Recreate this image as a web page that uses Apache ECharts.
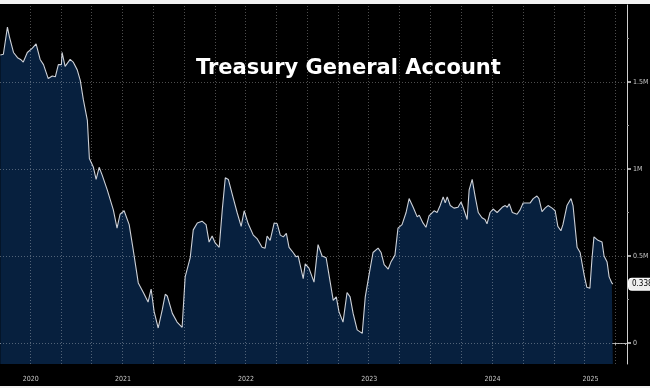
<!DOCTYPE html>
<html>
<head>
<meta charset="utf-8">
<script src="https://cdn.jsdelivr.net/npm/echarts@6/dist/echarts.min.js"></script>
<style>
html,body{margin:0;padding:0;background:#f2f2f2;width:650px;height:388px;overflow:hidden;}
#c{position:absolute;left:0;top:4px;width:650px;height:382px;background:#000;}
</style>
</head>
<body>
<div id="c"></div>
<script>
// ---- data (values in M) ----
const dates = [
'2020-07-04','2020-07-13','2020-07-25','2020-07-31','2020-08-12','2020-08-24','2020-09-02','2020-09-10','2020-09-22','2020-10-07',
'2020-10-10','2020-10-18','2020-10-30','2020-11-09','2020-11-23','2020-12-05','2020-12-14','2020-12-23','2021-01-01','2021-01-03',
'2021-01-12','2021-01-27','2021-02-05','2021-02-17','2021-02-26','2021-03-07','2021-03-19','2021-03-25','2021-04-06','2021-04-14',
'2021-04-23','2021-05-02','2021-05-17','2021-06-04','2021-06-15','2021-06-24','2021-07-06','2021-07-21','2021-08-02','2021-08-17',
'2021-09-01','2021-09-15','2021-09-24','2021-10-03','2021-10-15','2021-10-27','2021-11-05','2021-11-11','2021-11-26','2021-12-10',
'2021-12-25','2022-01-03','2022-01-18','2022-01-27','2022-02-08','2022-02-22','2022-03-06','2022-03-15','2022-03-24','2022-04-02',
'2022-04-14','2022-04-23','2022-05-02','2022-05-11','2022-05-26','2022-06-06','2022-06-18','2022-06-27','2022-07-09','2022-07-24',
'2022-08-04','2022-08-19','2022-08-28','2022-09-03','2022-09-12','2022-09-24','2022-10-03','2022-10-12','2022-10-21','2022-10-30',
'2022-11-07','2022-11-19','2022-11-28','2022-12-04','2022-12-19','2022-12-25','2023-01-05','2023-01-20','2023-02-01','2023-02-13',
'2023-02-25','2023-03-09','2023-03-18','2023-03-27','2023-04-04','2023-04-16','2023-04-28','2023-05-07','2023-05-16','2023-05-28',
'2023-06-12','2023-06-21','2023-07-02','2023-07-14','2023-07-29','2023-08-07','2023-08-16','2023-08-28','2023-09-05','2023-09-17',
'2023-09-26','2023-10-08','2023-10-20','2023-10-29','2023-11-10','2023-11-22','2023-11-28','2023-12-09','2023-12-18','2023-12-27',
'2024-01-11','2024-01-20','2024-01-29','2024-02-07','2024-02-13','2024-02-19','2024-02-28','2024-03-10','2024-03-22','2024-03-31',
'2024-04-06','2024-04-18','2024-04-24','2024-05-03','2024-05-12','2024-05-21','2024-06-01','2024-06-10','2024-06-16','2024-06-25',
'2024-07-04','2024-07-16','2024-07-31','2024-08-09','2024-08-15','2024-08-21','2024-08-30','2024-09-13','2024-09-22','2024-10-01',
'2024-10-13','2024-10-22','2024-10-31','2024-11-11','2024-11-17','2024-11-26','2024-12-05','2024-12-14','2024-12-26','2025-01-04',
'2025-01-12','2025-01-21','2025-01-27','2025-02-08','2025-02-20','2025-02-26','2025-03-10','2025-03-19','2025-03-31','2025-04-08',
'2025-04-17','2025-04-23','2025-04-29','2025-05-11','2025-05-23','2025-05-29','2025-06-07','2025-06-13','2025-06-21','2025-06-24'
];
const values = [
1.655,1.66,1.816,1.76,1.67,1.64,1.63,1.615,1.67,1.695,
1.685,1.72,1.63,1.60,1.52,1.535,1.53,1.60,1.60,1.67,
1.59,1.63,1.615,1.57,1.51,1.40,1.28,1.06,1.01,0.94,
1.01,0.965,0.88,0.765,0.66,0.74,0.76,0.68,0.535,0.345,
0.29,0.235,0.31,0.18,0.086,0.19,0.28,0.27,0.17,0.12,
0.09,0.38,0.49,0.65,0.69,0.70,0.68,0.58,0.615,0.575,
0.55,0.765,0.95,0.94,0.83,0.75,0.67,0.76,0.685,0.62,
0.60,0.55,0.545,0.615,0.59,0.69,0.685,0.62,0.61,0.63,
0.55,0.52,0.495,0.50,0.37,0.455,0.43,0.35,0.565,0.50,
0.49,0.35,0.245,0.265,0.18,0.12,0.29,0.265,0.17,0.075,
0.055,0.265,0.39,0.52,0.545,0.52,0.45,0.425,0.465,0.505,
0.66,0.68,0.75,0.83,0.78,0.725,0.735,0.69,0.665,0.73,
0.76,0.75,0.79,0.84,0.805,0.84,0.79,0.775,0.78,0.81,
0.78,0.71,0.88,0.94,0.84,0.75,0.72,0.71,0.685,0.75,
0.77,0.75,0.78,0.79,0.78,0.80,0.75,0.74,0.765,0.805,
0.805,0.805,0.83,0.845,0.83,0.755,0.775,0.79,0.775,0.76,
0.67,0.645,0.68,0.79,0.83,0.79,0.55,0.52,0.39,0.32,
0.315,0.48,0.61,0.59,0.58,0.50,0.465,0.38,0.345,0.338
];
const titleText = 'Treasury General Account';
const yTickValues = [0, 0.5, 1, 1.5];
const yMinorValues = [0.25, 0.75, 1.25, 1.75];
const yearLabels = ['2020','2021','2022','2023','2024','2025'];
const xMin = '2020-07-03';
const xMax = '2025-08-05';
const yMin = -0.121;
const yMax = 1.943;
const lastLabel = '0.338M';

// ---- helpers ----
const P = s => +echarts.time.parse(s);
const tMin = P(xMin), tMax = P(xMax);
function monthStarts(stepMonths){
  const out=[]; const d=new Date(tMin); let y=d.getFullYear(), m=d.getMonth()+1;
  while(true){ if(m>11){y++;m-=12;} const t=+new Date(y,m,1); if(t>tMax)break; if(t>tMin && (m%stepMonths)===0) out.push(t); m++; }
  return out;
}
const monthTicks = monthStarts(1);
const quarterTicks = monthStarts(3);
const yearStarts = yearLabels.slice(1).map(y=>P(y+'-01-01'));
const yearMids = yearLabels.map(y=>{
  const a=Math.max(P(y+'-01-01'),tMin), b=Math.min(P((+y+1)+'-01-01'),tMax); return (a+b)/2;
});
const seriesData = dates.map((d,i)=>[P(d), values[i]]);
const lastVal = values[values.length-1];

const axisGrey = '#a8a8a8';
const labelCol = '#c8c8c8';
const gridLine = {type:[1,2], color:'rgba(255,255,255,0.3)', width:1};

const chart = echarts.init(document.getElementById('c'), null, {renderer:'canvas'});
chart.setOption({
  backgroundColor:'#000',
  animation:false,
  title:{ text:titleText, left:196, top:54, padding:0,
    textStyle:{color:'#ffffff', fontSize:21, fontWeight:'bold', fontFamily:'DejaVu Sans'} },
  grid:{left:0, right:23, top:1, bottom:22, containLabel:false, outerBoundsMode:'none'},
  xAxis:[
    {type:'value', min:tMin, max:tMax, position:'bottom',
     axisLine:{show:true, lineStyle:{color:axisGrey, width:1}},
     axisTick:{show:true, customValues:monthTicks, length:2, lineStyle:{color:axisGrey}},
     axisLabel:{show:false}, splitLine:{show:false}},
    {type:'value', min:tMin, max:tMax, position:'bottom', offset:10,
     axisLine:{show:false},
     axisTick:{show:true, customValues:yearStarts, length:9, lineStyle:{color:'#8a8a8a'}},
     axisLabel:{show:true, customValues:yearMids, margin:2, fontSize:7, color:labelCol, fontFamily:'DejaVu Sans Condensed',
       formatter:v=>String(new Date(v).getFullYear())},
     splitLine:{show:false}}
  ],
  yAxis:[
    {type:'value', position:'right', min:yMin, max:yMax,
     axisLine:{show:true, lineStyle:{color:'#cfcfcf', width:1}},
     axisTick:{show:true, customValues:yTickValues, length:4, lineStyle:{color:'#dcdcdc', width:1.5}},
     axisLabel:{show:true, customValues:yTickValues, margin:6, fontSize:7, color:labelCol, fontFamily:'DejaVu Sans Condensed',
       formatter:v=> v===0 ? '0' : v+'M'},
     splitLine:{show:false}},
    {type:'value', position:'right', min:yMin, max:yMax,
     axisLine:{show:false},
     axisTick:{show:true, customValues:yMinorValues, length:2, lineStyle:{color:'#9a9a9a'}},
     axisLabel:{show:false}, splitLine:{show:false}},
    {type:'value', position:'right', min:yMin, max:yMax,
     axisLine:{show:false}, axisTick:{show:false}, splitLine:{show:false},
     axisLabel:{show:true, customValues:[lastVal], margin:2, fontSize:8, color:'#000', fontFamily:'DejaVu Sans Condensed',
       backgroundColor:'#eeeeee', borderColor:'#ffffff', borderWidth:1, borderRadius:3, padding:[2,3,1,3], formatter:()=>lastLabel}}
  ],
  series:[{
    type:'line', xAxisIndex:0, yAxisIndex:0,
    data:seriesData, symbol:'none', smooth:false,
    lineStyle:{color:'#cdd1d8', width:1.1},
    areaStyle:{color:'#07203e', opacity:1, origin:'start'},
    markLine:{silent:true, symbol:['none','none'], label:{show:false}, lineStyle:gridLine, animation:false,
      data:[...yTickValues.map(v=>({yAxis:v})), ...quarterTicks.map(t=>({xAxis:t}))]}
  }]
});
</script>
</body>
</html>
